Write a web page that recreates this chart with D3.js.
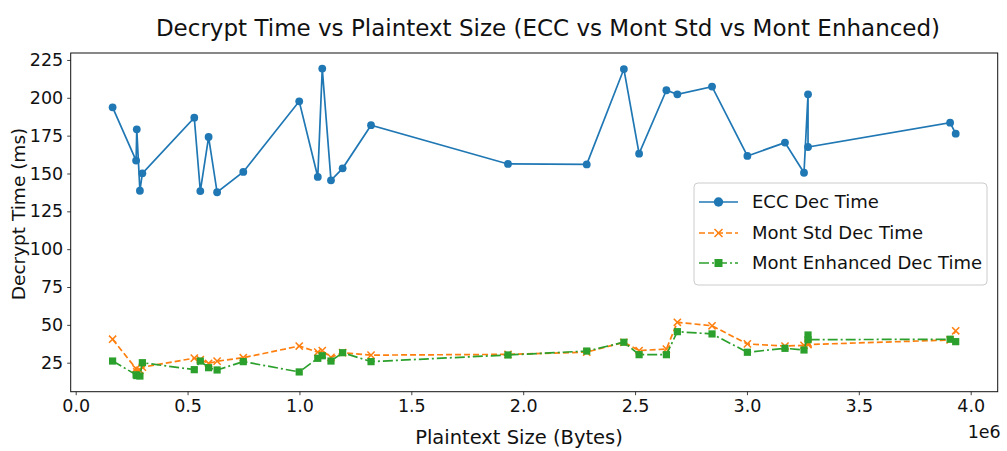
<!DOCTYPE html>
<html>
<head>
<meta charset="utf-8">
<script src="https://cdn.jsdelivr.net/npm/d3@7"></script>
<style>
  html, body { margin: 0; padding: 0; background: #fff; }
  svg { display: block; font-family: "DejaVu Sans", sans-serif; }
</style>
</head>
<body>
<svg id="chart" width="1007" height="451"></svg>
<script>
// Plaintext sizes in bytes
const sizes = [165000, 270000, 273000, 287000, 298000, 530000, 557000, 594000, 632000, 749000,
  999000, 1082000, 1102000, 1141000, 1193000, 1320000, 1932000, 2284000, 2450000, 2518000,
  2640000, 2689000, 2844000, 3002000, 3170000, 3255000, 3273000, 3273000, 3908000, 3933000];

// Decryption times (ms)
const eccDec = [193.7, 158.5, 179.2, 138.6, 150.1, 186.9, 138.4, 174.1, 137.6, 151,
  197.7, 147.7, 219.3, 145.5, 153.4, 181.9, 156.3, 156, 219, 163.1,
  205, 202.3, 207.4, 161.6, 170.4, 150.5, 202.3, 167.5, 183.6, 176.3];

const montStdDec = [40.5, 21, 19, 20, 22, 28, 27, 24.5, 26, 28.3,
  36, 32, 33, 28.5, 31.6, 30, 30.5, 32, 38.5, 33,
  34, 51.7, 49.4, 37.4, 36, 36.5, 38, 37, 40, 46.1];

const montEnhDec = [26.1, 17, 16.5, 16.2, 25, 20.4, 26.1, 21.7, 20.2, 25.7,
  18.9, 27.9, 29.6, 26.1, 31.6, 25.7, 30.1, 32.7, 38.5, 30.3,
  30.3, 45.5, 44, 31.9, 34.5, 33.4, 43.3, 40.2, 40.5, 38.9];

const xTicks = [0, 500000, 1000000, 1500000, 2000000, 2500000, 3000000, 3500000, 4000000];
const yTicks = [25, 50, 75, 100, 125, 150, 175, 200, 225];

const seriesNames = ["ECC Dec Time", "Mont Std Dec Time", "Mont Enhanced Dec Time"];
const seriesColors = ["#1f77b4", "#ff7f0e", "#2ca02c"];

const svg = d3.select("#chart");
const plotLeft = 70.7, plotRight = 997.7, plotTop = 53, plotBottom = 391.7;

const x = d3.scaleLinear().domain([-22300, 4120700]).range([plotLeft, plotRight]);
const y = d3.scaleLinear().domain([5.84, 229.6]).range([plotBottom, plotTop]);

// title
svg.append("text")
  .attr("x", 548).attr("y", 36)
  .attr("text-anchor", "middle")
  .attr("font-size", 23)
  .attr("fill", "#111")
  .text("Decrypt Time vs Plaintext Size (ECC vs Mont Std vs Mont Enhanced)");

// axes
const xAxis = d3.axisBottom(x).tickValues(xTicks).tickSize(3.5).tickPadding(4)
  .tickFormat(d => (d / 1e6).toFixed(1));
const yAxis = d3.axisLeft(y).tickValues(yTicks).tickSize(3.5).tickPadding(4);

const gx = svg.append("g").attr("transform", `translate(0,${plotBottom})`).call(xAxis);
const gy = svg.append("g").attr("transform", `translate(${plotLeft},0)`).call(yAxis);
[gx, gy].forEach(g => {
  g.select(".domain").remove();
  g.selectAll("text").attr("font-size", 17.5).attr("fill", "#111")
    .attr("font-family", "DejaVu Sans, sans-serif");
  g.selectAll("line").attr("stroke", "#111").attr("stroke-width", 0.8);
});

// frame
svg.append("rect")
  .attr("x", plotLeft).attr("y", plotTop)
  .attr("width", plotRight - plotLeft).attr("height", plotBottom - plotTop)
  .attr("fill", "none").attr("stroke", "#111").attr("stroke-width", 1);

// axis labels
svg.append("text")
  .attr("x", 519).attr("y", 444)
  .attr("text-anchor", "middle").attr("font-size", 19.5).attr("fill", "#111")
  .text("Plaintext Size (Bytes)");
svg.append("text")
  .attr("transform", "translate(25,214) rotate(-90)")
  .attr("text-anchor", "middle").attr("font-size", 18.5).attr("fill", "#111")
  .text("Decrypt Time (ms)");
svg.append("text")
  .attr("x", plotRight + 3).attr("y", 438)
  .attr("text-anchor", "end").attr("font-size", 17.5).attr("fill", "#111")
  .text("1e6");

const line = d3.line().x(d => x(d[0])).y(d => y(d[1]));
const plot = svg.append("g");

function pairs(vals) { return sizes.map((s, i) => [s, vals[i]]); }

// ECC: solid line, circle markers
const eccData = pairs(eccDec);
plot.append("path").attr("d", line(eccData))
  .attr("fill", "none").attr("stroke", seriesColors[0]).attr("stroke-width", 1.7);
plot.selectAll(".ecc").data(eccData).join("circle")
  .attr("cx", d => x(d[0])).attr("cy", d => y(d[1])).attr("r", 3.9)
  .attr("fill", seriesColors[0]);

// Mont Std: dashed line, x markers
const stdData = pairs(montStdDec);
plot.append("path").attr("d", line(stdData))
  .attr("fill", "none").attr("stroke", seriesColors[1]).attr("stroke-width", 1.7)
  .attr("stroke-dasharray", "6,3");
function xMark(g, cx, cy, s) {
  g.append("path")
    .attr("d", `M${cx - s},${cy - s}L${cx + s},${cy + s}M${cx - s},${cy + s}L${cx + s},${cy - s}`)
    .attr("stroke", seriesColors[1]).attr("stroke-width", 1.5).attr("fill", "none");
}
stdData.forEach(d => xMark(plot, x(d[0]), y(d[1]), 3.6));

// Mont Enhanced: dash-dot line, square markers
const enhData = pairs(montEnhDec);
plot.append("path").attr("d", line(enhData))
  .attr("fill", "none").attr("stroke", seriesColors[2]).attr("stroke-width", 1.7)
  .attr("stroke-dasharray", "10,3,2,3");
plot.selectAll(".enh").data(enhData).join("rect")
  .attr("x", d => x(d[0]) - 3.6).attr("y", d => y(d[1]) - 3.6)
  .attr("width", 7.2).attr("height", 7.2)
  .attr("fill", seriesColors[2]);

// legend
const lg = svg.append("g");
lg.append("rect")
  .attr("x", 694).attr("y", 183).attr("width", 293).attr("height", 102)
  .attr("rx", 4).attr("fill", "#fff").attr("fill-opacity", 0.85)
  .attr("stroke", "#ccc").attr("stroke-width", 1);
const rowsY = [202, 233, 263];
const dashes = [null, "6,3", "10,3,2,3"];
seriesNames.forEach((name, i) => {
  const ly = rowsY[i];
  lg.append("line").attr("x1", 699).attr("x2", 738).attr("y1", ly).attr("y2", ly)
    .attr("stroke", seriesColors[i]).attr("stroke-width", 1.7)
    .attr("stroke-dasharray", dashes[i]);
  if (i === 0) {
    lg.append("circle").attr("cx", 718.5).attr("cy", ly).attr("r", 4.7).attr("fill", seriesColors[0]);
  } else if (i === 1) {
    xMark(lg, 718.5, ly, 4);
  } else {
    lg.append("rect").attr("x", 714.5).attr("y", ly - 4).attr("width", 8).attr("height", 8)
      .attr("fill", seriesColors[2]);
  }
  lg.append("text").attr("x", 752).attr("y", ly).attr("dy", "0.35em")
    .attr("font-size", 18).attr("fill", "#111").text(name);
});
</script>
</body>
</html>
